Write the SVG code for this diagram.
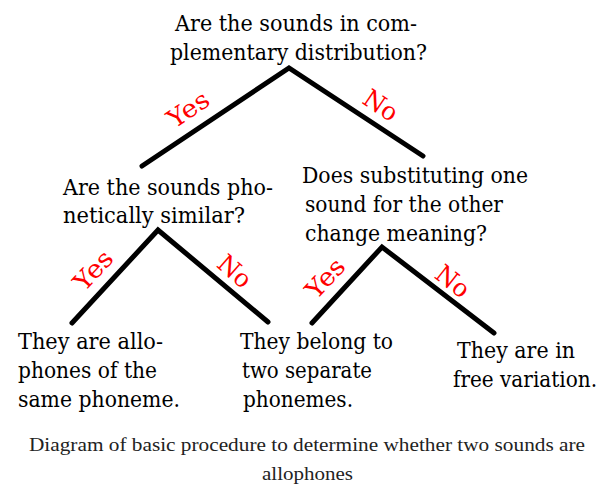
<svg xmlns="http://www.w3.org/2000/svg" width="607" height="487" viewBox="0 0 607 487">
<defs>
<style type="text/css">
.t{font-family:"DejaVu Serif","Liberation Serif",serif;font-size:23px;fill:#000}
.lbl{font-family:"DejaVu Serif","Liberation Serif",serif;font-size:25px;fill:#ff0000;text-anchor:middle}
.cap{font-family:"Liberation Serif","DejaVu Serif",serif;font-size:18.5px;fill:#222}
.e{stroke:#000;stroke-width:5;stroke-linecap:round;fill:none}
</style>
</defs>
<rect width="607" height="487" fill="#fff"/>
<g id="connectors">
<polyline class="e" points="142,166 289,68 423,156"/>
<polyline class="e" points="72,323 158,230 268,322"/>
<polyline class="e" points="312,323 382,247 494,333"/>
<text class="lbl" transform="translate(188,109) rotate(-34)" y="9" textLength="45" lengthAdjust="spacingAndGlyphs">Yes</text>
<text class="lbl" transform="translate(381,105) rotate(34)" y="9" textLength="36" lengthAdjust="spacingAndGlyphs">No</text>
<text class="lbl" transform="translate(93,270) rotate(-47)" y="9" textLength="45" lengthAdjust="spacingAndGlyphs">Yes</text>
<text class="lbl" transform="translate(235,271) rotate(41)" y="9" textLength="36" lengthAdjust="spacingAndGlyphs">No</text>
<text class="lbl" transform="translate(325,278) rotate(-47)" y="9" textLength="45" lengthAdjust="spacingAndGlyphs">Yes</text>
<text class="lbl" transform="translate(453,281) rotate(38)" y="9" textLength="36" lengthAdjust="spacingAndGlyphs">No</text>
</g>
<g id="q1">
<text class="t" x="175" y="31" textLength="242" lengthAdjust="spacingAndGlyphs">Are the sounds in com-</text>
<text class="t" x="170" y="60" textLength="257" lengthAdjust="spacingAndGlyphs">plementary distribution?</text>
</g>
<g id="q2">
<text class="t" x="63" y="195" textLength="210" lengthAdjust="spacingAndGlyphs">Are the sounds pho-</text>
<text class="t" x="63" y="223" textLength="182" lengthAdjust="spacingAndGlyphs">netically similar?</text>
</g>
<g id="q3">
<text class="t" x="302" y="183" textLength="226" lengthAdjust="spacingAndGlyphs">Does substituting one</text>
<text class="t" x="305" y="212" textLength="198" lengthAdjust="spacingAndGlyphs">sound for the other</text>
<text class="t" x="305" y="241" textLength="182" lengthAdjust="spacingAndGlyphs">change meaning?</text>
</g>
<g id="a1">
<text class="t" x="18" y="349" textLength="145" lengthAdjust="spacingAndGlyphs">They are allo-</text>
<text class="t" x="18" y="378" textLength="139" lengthAdjust="spacingAndGlyphs">phones of the</text>
<text class="t" x="18" y="407" textLength="162" lengthAdjust="spacingAndGlyphs">same phoneme.</text>
</g>
<g id="a2">
<text class="t" x="240" y="349" textLength="153" lengthAdjust="spacingAndGlyphs">They belong to</text>
<text class="t" x="242" y="378" textLength="130" lengthAdjust="spacingAndGlyphs">two separate</text>
<text class="t" x="243" y="407" textLength="110" lengthAdjust="spacingAndGlyphs">phonemes.</text>
</g>
<g id="a3">
<text class="t" x="457" y="358" textLength="118" lengthAdjust="spacingAndGlyphs">They are in</text>
<text class="t" x="453" y="387" textLength="144" lengthAdjust="spacingAndGlyphs">free variation.</text>
</g>
<g id="caption">
<text class="cap" x="29" y="451" textLength="556" lengthAdjust="spacingAndGlyphs">Diagram of basic procedure to determine whether two sounds are</text>
<text class="cap" x="262" y="480" textLength="91" lengthAdjust="spacingAndGlyphs">allophones</text>
</g>
</svg>
